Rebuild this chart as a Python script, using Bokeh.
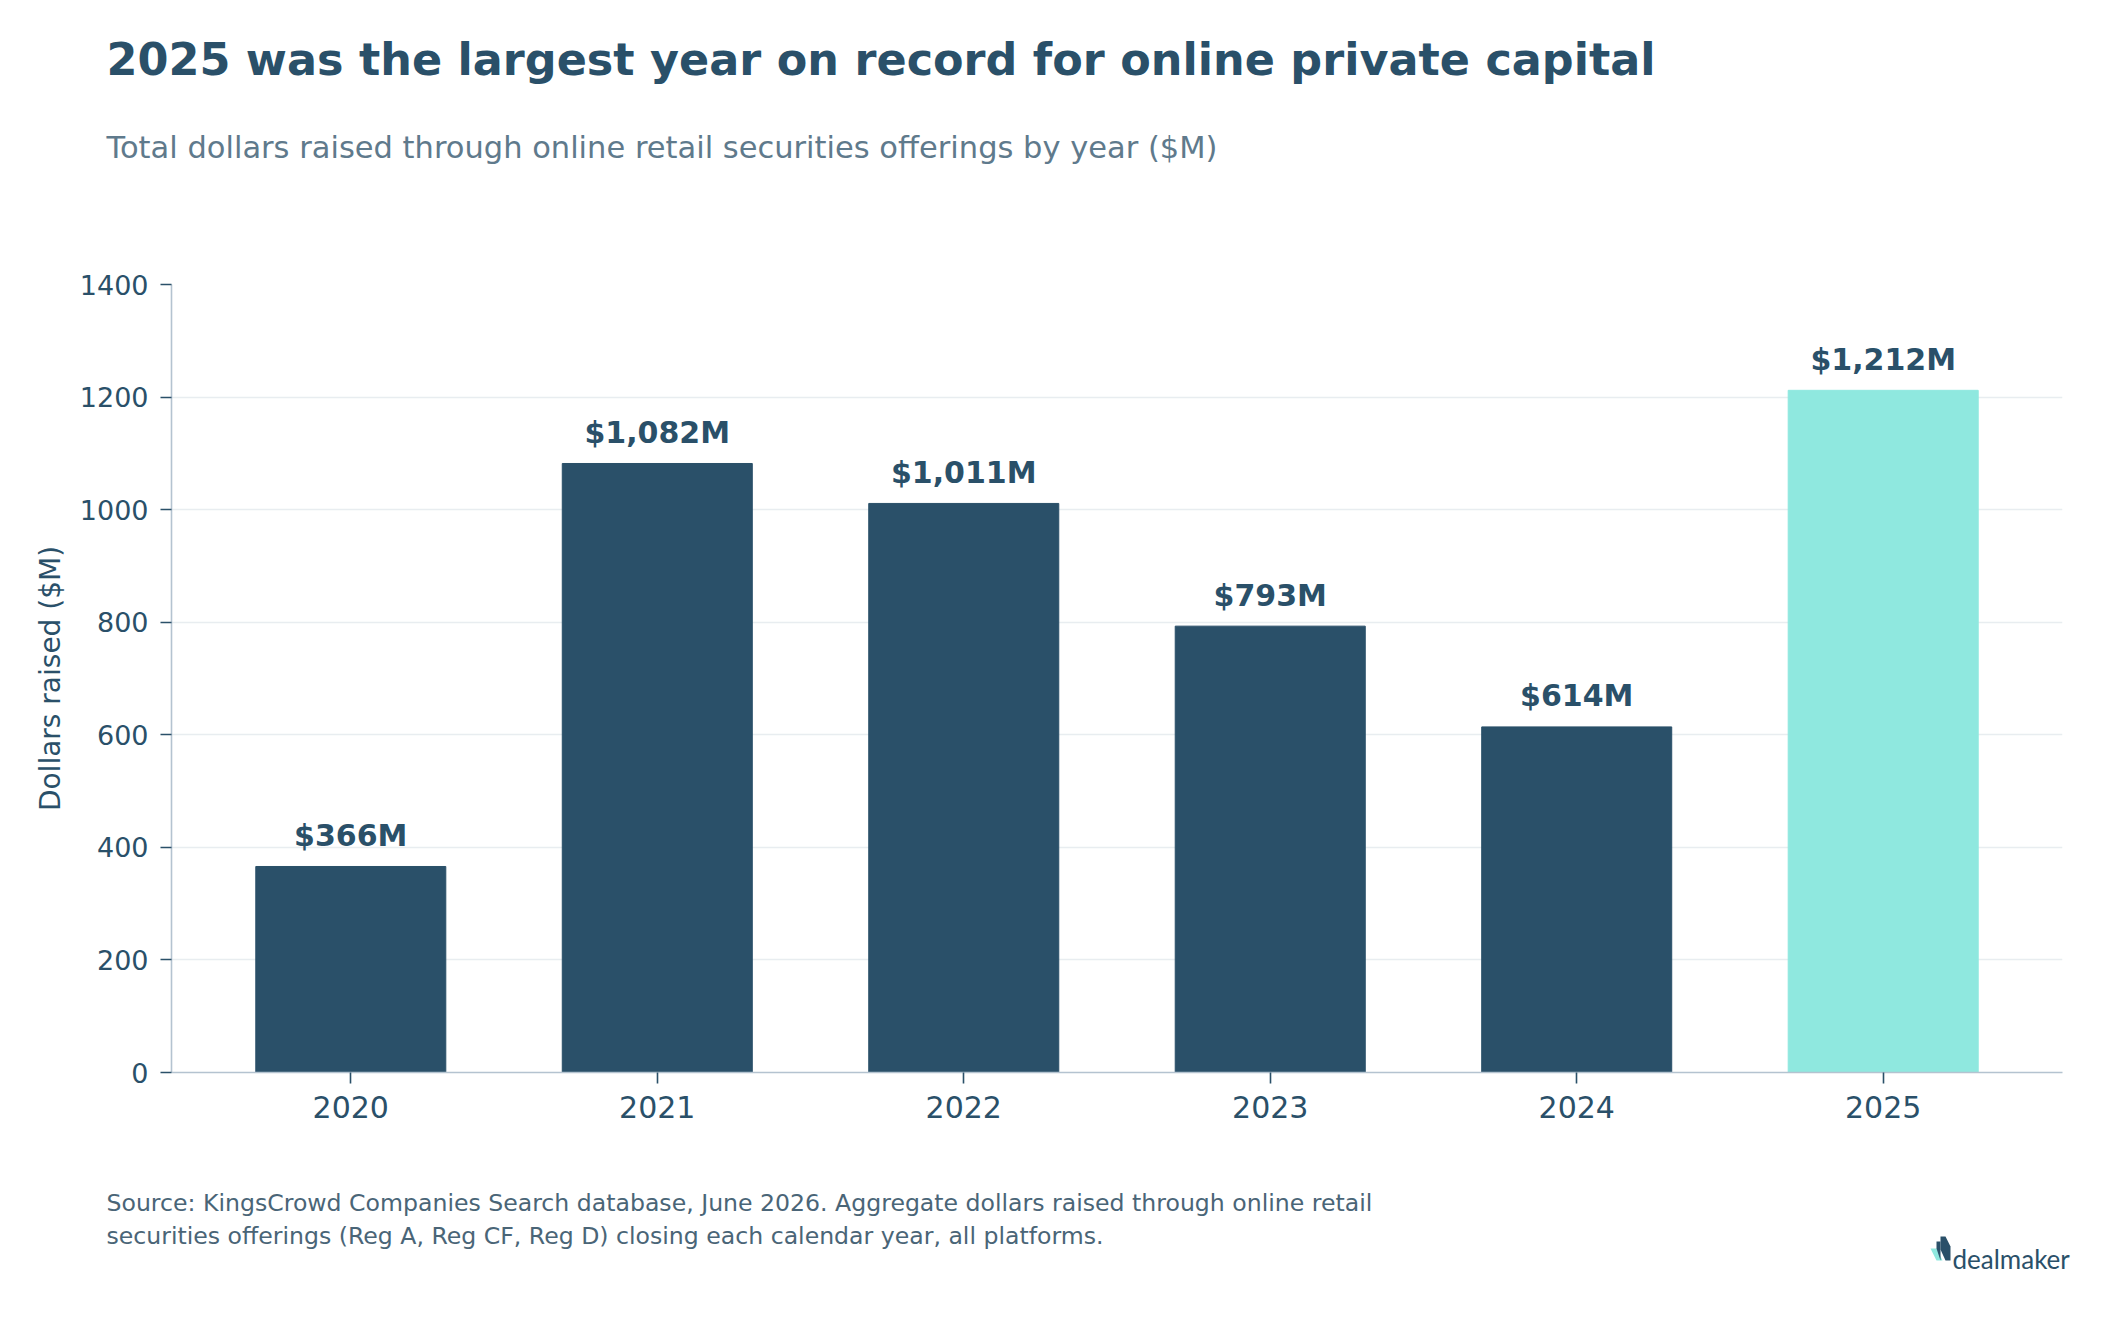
from bokeh.plotting import figure
from bokeh.layouts import column, row
from bokeh.models import Range1d, FixedTicker, Label, ColumnDataSource
from bokeh.core.properties import value
from bokeh.embed import file_html
from bokeh.resources import INLINE

years = ["2020", "2021", "2022", "2023", "2024", "2025"]
raised = [366, 1082, 1011, 793, 614, 1212]
y_ticks = [0, 200, 400, 600, 800, 1000, 1200, 1400]

DARK = "#2a5069"
TEAL = "#8fe8df"
FONT = "DejaVu Sans"

xs = list(range(len(years)))
colors = [TEAL if y == "2025" else DARK for y in years]
labels = [f"${v:,}M" for v in raised]
src = ColumnDataSource(dict(x=xs, top=raised, color=colors, label=labels))

W = 2124
HEAD_H = 200
FOOT_TOP = 1160
FOOT_H = 1324 - FOOT_TOP
FL, FR, FT, FB = 171, 2062, 284, 1072


def blank(h, y0):
    f = figure(width=W, height=h, output_backend="svg", toolbar_location=None,
               x_range=Range1d(0, W), y_range=Range1d(y0 + h, y0),
               x_axis_type=None, y_axis_type=None, min_border=0)
    f.outline_line_color = None
    f.grid.grid_line_color = None
    f.background_fill_color = "white"
    f.border_fill_color = "white"
    return f


def add_label(f, text, x, y, size, color, style="normal", font=FONT):
    f.add_layout(Label(x=x, y=y, text=text, text_font=font, text_font_size=size,
                       text_font_style=style, text_color=color,
                       text_baseline="alphabetic", text_align="left"))


# header
head = blank(HEAD_H, 0)
add_label(head, "2025 was the largest year on record for online private capital",
          106, 59, "44.5px", DARK, "bold")
add_label(head, "Total dollars raised through online retail securities offerings by year ($M)",
          106, 147, "30.5px", "#5f7a8c")

# main chart
p = figure(width=W, height=FOOT_TOP - HEAD_H, output_backend="svg", toolbar_location=None,
           x_range=Range1d(-0.585, 5.585), y_range=Range1d(0, 1400),
           min_border_left=FL, min_border_right=W - FR,
           min_border_top=FT - HEAD_H, min_border_bottom=FOOT_TOP - FB)
p.outline_line_color = None
p.background_fill_color = "white"
p.border_fill_color = "white"

p.vbar(x="x", top="top", width=0.62, color="color", source=src)
p.text(x="x", y="top", text="label", source=src, text_align="center",
       text_baseline="alphabetic", y_offset=-31, text_color=DARK,
       text_font=value(FONT), text_font_style="bold", text_font_size="30px")

p.xaxis.ticker = FixedTicker(ticks=xs)
p.xaxis.major_label_overrides = {i: y for i, y in zip(xs, years)}
p.yaxis.ticker = FixedTicker(ticks=y_ticks)
p.xaxis.minor_tick_line_color = None
p.yaxis.minor_tick_line_color = None
for ax in (p.xaxis, p.yaxis):
    ax.axis_line_color = "#b4c3d0"
    ax.axis_line_width = 1.6
    ax.major_tick_line_color = DARK
    ax.major_tick_line_width = 1.6
    ax.major_tick_out = 11
    ax.major_tick_in = 0
    ax.major_label_text_color = DARK
    ax.major_label_text_font = FONT
p.xaxis.major_label_text_font_size = "30px"
p.yaxis.major_label_text_font_size = "27px"
p.xaxis.major_label_standoff = 12
p.yaxis.major_label_standoff = 12
p.yaxis.axis_label = "Dollars raised ($M)"
p.yaxis.axis_label_text_font = FONT
p.yaxis.axis_label_text_font_style = "normal"
p.yaxis.axis_label_text_font_size = "28px"
p.yaxis.axis_label_text_color = DARK
p.yaxis.axis_label_standoff = 10

p.xgrid.grid_line_color = None
p.ygrid.grid_line_color = "#e8edf0"
p.ygrid.grid_line_width = 1.5

# footer
foot = blank(FOOT_H, FOOT_TOP)
add_label(foot, "Source: KingsCrowd Companies Search database, June 2026. Aggregate dollars raised through online retail",
          106, 1202, "23.6px", "#4a6577")
add_label(foot, "securities offerings (Reg A, Reg CF, Reg D) closing each calendar year, all platforms.",
          106, 1235, "23.6px", "#4a6577")
add_label(foot, "dealmaker", 1952, 1258, "26px", DARK, "normal", "Lato")
foot.patches(xs=[[1930, 1936, 1942, 1936],
                 [1936, 1940, 1940, 1936],
                 [1940, 1945, 1950, 1950, 1945, 1940]],
             ys=[[1248, 1248, 1260, 1260],
                 [1241, 1241, 1260, 1248],
                 [1236, 1236, 1246, 1260, 1260, 1249]],
             fill_color=[TEAL, DARK, DARK], line_color=None)

layout = column(row(head), row(p), row(foot), spacing=0)
open("out.html", "w").write(file_html(layout, INLINE))
